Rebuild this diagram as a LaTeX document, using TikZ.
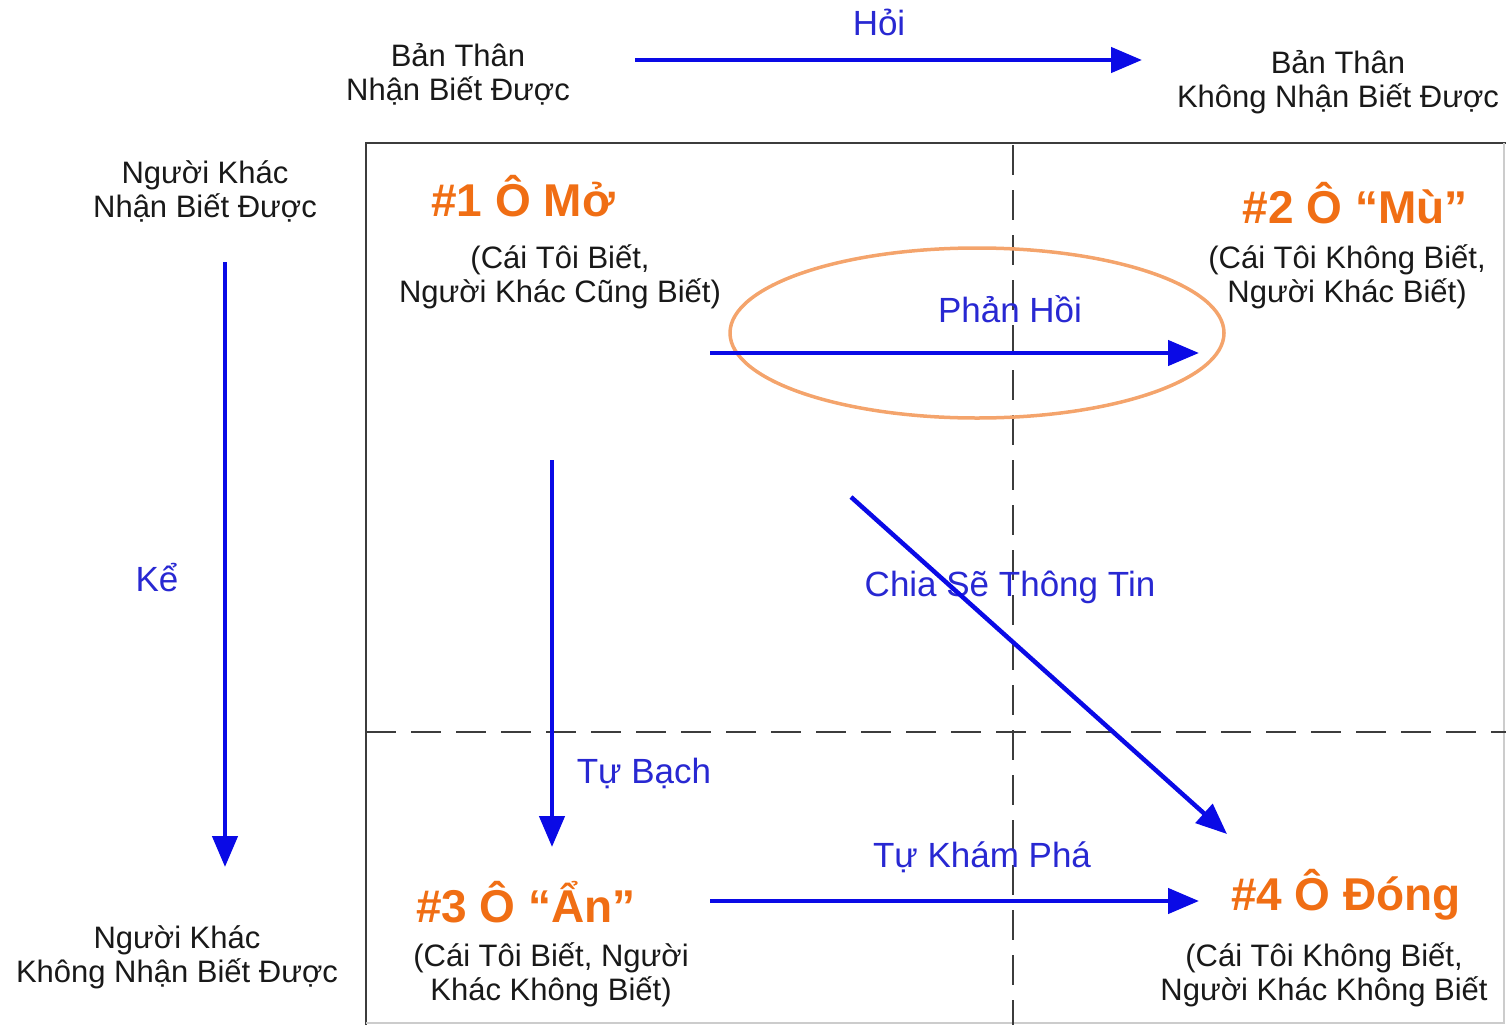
\documentclass[tikz,border=0pt]{standalone}
\usepackage{fontspec}
\setmainfont{Liberation Sans}
\usetikzlibrary{arrows.meta,shapes.geometric}
\definecolor{arrowblue}{RGB}{10,10,230}
\definecolor{labelblue}{RGB}{40,40,210}
\definecolor{titleorange}{RGB}{240,110,20}
\definecolor{ringorange}{RGB}{244,164,108}
\definecolor{gridgray}{RGB}{60,60,60}
\definecolor{textgray}{RGB}{25,25,25}
\tikzset{
  conn/.style={draw=arrowblue, line width=4.5pt, -{Triangle[length=31pt,width=25pt]}},
  lbl/.style={text=labelblue, font=\fontsize{35}{40}\selectfont, inner sep=0pt},
  side/.style={text=textgray, align=center, font=\fontsize{31}{34}\selectfont, inner sep=0pt},
  quadtitle/.style={text=titleorange, font=\bfseries\fontsize{46}{50}\selectfont, inner sep=0pt},
  quaddesc/.style={text=textgray, align=center, font=\fontsize{31}{34}\selectfont, inner sep=0pt},
  gridline/.style={draw=gridgray, line width=2pt, dash pattern=on 30pt off 15pt},
  frame/.style={draw=gridgray, line width=2pt}
}
\begin{document}
\begin{tikzpicture}[x=1pt,y=-1pt]
\useasboundingbox (0,0) rectangle (1506,1025);
% frame
\draw[frame] (366,1025) -- (366,143) -- (1506,143);
\draw[draw=gray!40, line width=1.5pt] (1504,143) -- (1504,1023) -- (366,1023);
\draw[gridline] (1013,145) -- (1013,1025);
\draw[gridline] (366,732) -- (1506,732);
% side texts
\node[side] (bt1) at (458,74) {Bản Thân\\Nhận Biết Được};
\node[side] (bt2) at (1338,82) {Bản Thân\\Không Nhận Biết Được};
\node[side] (nk1) at (205,191) {Người Khác\\Nhận Biết Được};
\node[side] (nk2) at (177,957) {Người Khác\\Không Nhận Biết Được};
% quadrant titles
\node[quadtitle] (q1) at (523,196) {\#1 Ô Mở};
\node[quaddesc] (d1) at (560,277) {(Cái Tôi Biết,\\Người Khác Cũng Biết)};
\node[quadtitle] (q2) at (1355,203) {\#2 Ô “Mù”};
\node[quaddesc] (d2) at (1347,277) {(Cái Tôi Không Biết,\\Người Khác Biết)};
\node[quadtitle] (q3) at (526,902) {\#3 Ô “Ẩn”};
\node[quaddesc] (d3) at (551,975) {(Cái Tôi Biết, Người\\Khác Không Biết)};
\node[quadtitle] (q4) at (1346,895) {\#4 Ô Đóng};
\node[quaddesc] (d4) at (1324,975) {(Cái Tôi Không Biết,\\Người Khác Không Biết};
% labels
\node[lbl] (lhoi) at (879,22) {Hỏi};
\node[lbl] (lke) at (157,578) {Kể};
\node[lbl] (lph) at (1010,309) {Phản Hồi};
\node[lbl] (ltb) at (644,773) {Tự Bạch};
\node[lbl] (lcs) at (1010,587) {Chia Sẽ Thông Tin};
\node[lbl] (lkp) at (982,857) {Tự Khám Phá};
% ellipse
\node[draw=ringorange, line width=3.5pt, ellipse, minimum width=494pt, minimum height=170pt, inner sep=0pt] (ring) at (977,333) {};
% connector endpoints
\coordinate (hoiS) at (635,60);
\coordinate (hoiE) at (1142,60);
\coordinate (keS) at (225,262);
\coordinate (keE) at (225,867);
\coordinate (phS) at (710,353);
\coordinate (phE) at (1199,353);
\coordinate (tbS) at (552,460);
\coordinate (tbE) at (552,847);
\coordinate (csS) at (851,497);
\coordinate (csE) at (1227,834);
\coordinate (kpS) at (710,901);
\coordinate (kpE) at (1199,901);
\draw[conn] (hoiS) -- (hoiE);
\draw[conn] (keS) -- (keE);
\draw[conn] (phS) -- (phE);
\draw[conn] (tbS) -- (tbE);
\draw[conn] (csS) -- (csE);
\draw[conn] (kpS) -- (kpE);
\end{tikzpicture}
\end{document}
